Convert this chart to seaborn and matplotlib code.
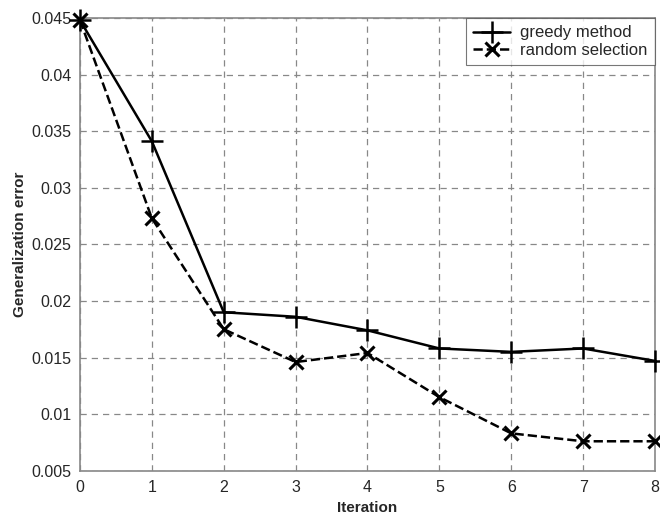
import matplotlib
matplotlib.use("Agg")
import matplotlib.pyplot as plt
import seaborn as sns
import pandas as pd

iterations = [0, 1, 2, 3, 4, 5, 6, 7, 8]
greedy = [0.0448, 0.0341, 0.0190, 0.0186, 0.0174, 0.0158, 0.0155, 0.0158, 0.0147]
random_sel = [0.0448, 0.0273, 0.0175, 0.0146, 0.0154, 0.0115, 0.0083, 0.0076, 0.0076]
yticks = [0.005, 0.01, 0.015, 0.02, 0.025, 0.03, 0.035, 0.04, 0.045]
ytick_labels = ["0.005", "0.01", "0.015", "0.02", "0.025", "0.03", "0.035", "0.04", "0.045"]

sns.set_style("white")
plt.rcParams['font.family'] = ['Liberation Sans', 'DejaVu Sans']

fig = plt.figure(figsize=(6.6, 5.18), dpi=100)
ax = fig.add_axes([0.1212, 0.0913, 0.8712, 0.874])

df_g = pd.DataFrame({"x": iterations, "y": greedy})
df_r = pd.DataFrame({"x": iterations, "y": random_sel})

sns.lineplot(data=df_g, x="x", y="y", ax=ax, color="black", linewidth=1.8,
             marker="+", markersize=16, markeredgewidth=1.8, markeredgecolor="black",
             label="greedy method", clip_on=False, zorder=5)
sns.lineplot(data=df_r, x="x", y="y", ax=ax, color="black", linewidth=1.8,
             linestyle="--", marker="x", markersize=10, markeredgewidth=2.2,
             markeredgecolor="black", label="random selection", clip_on=False, zorder=5)

ax.set_xlim(0, 8)
ax.set_ylim(0.005, 0.045)
ax.set_xticks(iterations)
ax.set_xticklabels([str(i) for i in iterations])
ax.set_yticks(yticks)
ax.set_yticklabels(ytick_labels)
ax.tick_params(axis="both", labelsize=11.5, direction="in", length=3, color="#888888")
ax.tick_params(axis="x", pad=7)
ax.tick_params(axis="y", pad=6)
ax.grid(True, linestyle=(0, (5, 4)), color="#888888", linewidth=0.9)

for s in ax.spines.values():
    s.set_color("#888888")
    s.set_linewidth(1.2)

ax.set_xlabel("Iteration", fontsize=11, fontweight="bold", labelpad=4)
ax.set_ylabel("Generalization error", fontsize=11, fontweight="bold", labelpad=3)

leg = ax.legend(loc="upper right", fontsize=12, frameon=True, fancybox=False,
                handlelength=2.2, handletextpad=0.6, borderpad=0.45,
                labelspacing=0.15, borderaxespad=0.0)
leg.get_frame().set_edgecolor("#555555")
leg.get_frame().set_linewidth(0.8)
leg.set_zorder(10)

fig.savefig("out.png", dpi=100)
